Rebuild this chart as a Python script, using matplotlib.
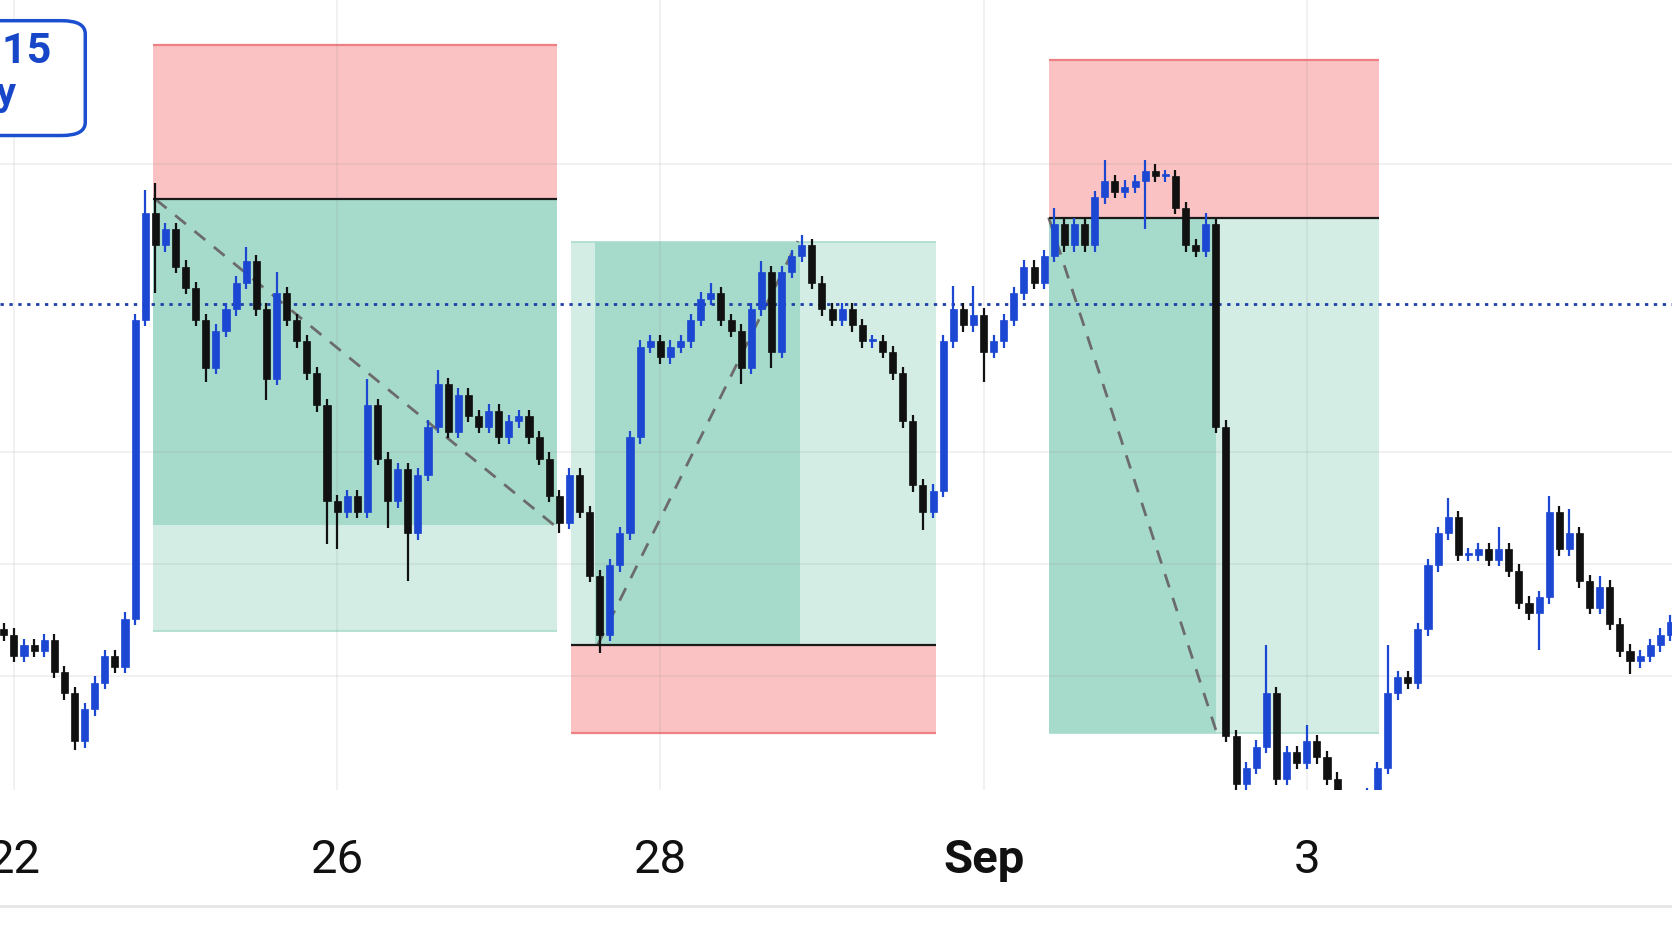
import numpy as np
import matplotlib.pyplot as plt
from matplotlib.patches import Rectangle, FancyBboxPatch

# 90-minute bars, weekends skipped; x axis counts trading days from Aug 22
bars_per_day = 16
first_bar_day = -1 / 16
first_open = 410

close = [
    405, 385, 395, 390, 400, 370, 350, 305, 335, 360,
    385, 375, 420, 700, 800, 770, 785, 750, 730, 700,
    655, 690, 710, 735, 755, 710, 645, 725, 700, 680,
    650, 620, 530, 520, 535, 520, 620, 570, 530, 560,
    500, 555, 600, 640, 595, 630, 610, 600, 615, 590,
    605, 610, 590, 570, 535, 510, 555, 520, 460, 405,
    470, 500, 590, 675, 680, 665, 675, 680, 700, 720,
    725, 700, 690, 655, 710, 745, 670, 745, 760, 770,
    735, 710, 700, 710, 695, 680, 680, 670, 650, 605,
    545, 520, 540, 680, 710, 695, 705, 670, 680, 700,
    725, 750, 735, 760, 790, 770, 790, 770, 815, 830,
    820, 825, 830, 840, 835, 835, 805, 770, 765, 790,
    600, 310, 265, 280, 300, 350, 270, 295, 285, 305,
    290, 270, 245, 230, 240, 255, 280, 350, 365, 360,
    410, 470, 500, 515, 480, 480, 485, 475, 485, 465,
    435, 425, 440, 520, 485, 500, 455, 430, 450, 415,
    390, 380, 385, 395, 405, 417,
]
upper_wick = [
    6, 6, 6, 6, 6, 6, 6, 6, 6, 6,
    6, 6, 6, 6, 22, 28, 6, 6, 6, 6,
    6, 6, 6, 6, 13, 6, 6, 20, 6, 6,
    6, 6, 6, 6, 6, 6, 25, 6, 6, 6,
    6, 6, 6, 13, 6, 6, 6, 6, 6, 6,
    6, 6, 6, 6, 6, 6, 6, 6, 6, 6,
    6, 6, 6, 6, 6, 6, 6, 6, 6, 6,
    10, 6, 6, 6, 6, 10, 6, 6, 6, 10,
    6, 6, 6, 6, 6, 6, 6, 6, 6, 6,
    6, 6, 6, 6, 22, 6, 27, 6, 6, 6,
    6, 6, 6, 6, 15, 6, 6, 6, 6, 20,
    6, 6, 6, 10, 6, 6, 6, 6, 6, 10,
    5, 6, 6, 6, 6, 45, 6, 6, 6, 15,
    6, 6, 6, 6, 6, 6, 6, 45, 6, 6,
    6, 6, 6, 18, 6, 6, 6, 6, 21, 6,
    6, 6, 6, 15, 6, 23, 6, 6, 10, 6,
    6, 6, 6, 6, 6, 6,
]
lower_wick = [
    6, 6, 6, 6, 6, 6, 6, 8, 6, 6,
    6, 6, 6, 6, 6, 45, 6, 6, 6, 6,
    13, 6, 6, 6, 6, 6, 20, 6, 6, 6,
    6, 6, 40, 35, 6, 6, 6, 6, 25, 6,
    45, 6, 6, 6, 6, 6, 6, 6, 6, 6,
    6, 6, 6, 6, 6, 10, 6, 6, 6, 17,
    6, 6, 6, 6, 6, 6, 6, 6, 6, 6,
    6, 6, 6, 15, 6, 6, 15, 6, 6, 6,
    6, 6, 6, 6, 6, 6, 6, 6, 6, 6,
    6, 17, 6, 6, 6, 6, 6, 28, 6, 6,
    6, 6, 6, 6, 6, 6, 6, 6, 6, 6,
    6, 6, 6, 45, 6, 6, 6, 6, 6, 6,
    6, 6, 6, 6, 6, 6, 6, 6, 6, 6,
    6, 6, 6, 6, 6, 6, 6, 6, 6, 6,
    6, 6, 6, 6, 6, 6, 6, 6, 6, 6,
    6, 6, 34, 6, 6, 6, 6, 6, 6, 6,
    6, 12, 6, 6, 6, 6,
]

tick_days = [0, 2, 4, 6, 8]
tick_labels = ["22", "26", "28", "Sep", "3"]
grid_prices = [846, 576, 471, 366]
last_price = 715

# position tools: short, long, short
pos_start = [0.858, 3.446, 6.403]
pos_end = [3.360, 5.703, 8.449]
pos_entry = [813, 395, 796]
pos_stop = [958, 313, 944]
pos_target = [408, 773, 313]
# part of the profit zone already covered
hit_x0 = [0.858, 3.597, 6.403]
hit_x1 = [3.360, 4.865, 7.439]
hit_y0 = [813, 395, 796]
hit_y1 = [508, 773, 313]
# dashed trade path
path_x0 = [0.878, 3.611, 6.403]
path_y0 = [813, 395, 796]
path_x1 = [3.340, 4.851, 7.439]
path_y1 = [508, 774, 315]

BLUE = "#1b47d3"
PINK = "#fbc2c3"
GREEN_DARK = "#a6dbcb"
GREEN_LIGHT = "#d3ede5"

close = np.array(close, dtype=float)
opens = np.concatenate([[first_open], close[:-1]])
highs = np.maximum(opens, close) + np.array(upper_wick)
lows = np.minimum(opens, close) - np.array(lower_wick)
x = first_bar_day + np.arange(len(close)) / bars_per_day

fig = plt.figure(figsize=(16.72, 9.41), dpi=100)
ax = fig.add_axes([0, 0.16, 1, 0.84])
ax.set_xlim(-0.086, 10.26)
ax.set_ylim(259, 1000)

# position boxes
for i in range(3):
    w = pos_end[i] - pos_start[i]
    ax.add_patch(Rectangle((pos_start[i], min(pos_entry[i], pos_stop[i])), w,
                           abs(pos_stop[i] - pos_entry[i]), facecolor=PINK,
                           edgecolor="none", zorder=1))
    ax.add_patch(Rectangle((pos_start[i], min(pos_entry[i], pos_target[i])), w,
                           abs(pos_target[i] - pos_entry[i]), facecolor=GREEN_LIGHT,
                           edgecolor="none", zorder=1))
    ax.add_patch(Rectangle((hit_x0[i], min(hit_y0[i], hit_y1[i])), hit_x1[i] - hit_x0[i],
                           abs(hit_y1[i] - hit_y0[i]), facecolor=GREEN_DARK,
                           edgecolor="none", zorder=1.1))
    ax.hlines(pos_stop[i], pos_start[i], pos_end[i], color="#ee7f82", lw=1.6, zorder=1.2)
    ax.hlines(pos_entry[i], pos_start[i], pos_end[i], color="#1a1a1a", lw=1.6, zorder=2.6)
    ax.hlines(pos_target[i], pos_start[i], pos_end[i], color="#a9dccd", lw=1.2, zorder=1.2)
    ax.plot([path_x0[i], path_x1[i]], [path_y0[i], path_y1[i]], color="#6b6b6b",
            lw=2, dashes=(5, 4), zorder=2.4)

# grid
for d in tick_days:
    ax.axvline(d, color="#888888", alpha=0.13, lw=1.2, zorder=1.5)
for p in grid_prices:
    ax.axhline(p, color="#888888", alpha=0.13, lw=1.2, zorder=1.5)

ax.axhline(last_price, color="#1f3fa8", lw=2.0, linestyle=(0, (1.2, 2.0)), zorder=2.5)

# candles
colors = np.where(close >= opens, BLUE, "#111111")
ax.vlines(x, lows, highs, colors=colors, lw=1.6, zorder=3)
body = np.maximum(np.abs(close - opens), 2)
ax.bar(x, body, bottom=np.minimum(opens, close), width=0.7 / bars_per_day,
       color=colors, edgecolor=colors, lw=0.5, zorder=3.1)

for s in ax.spines.values():
    s.set_visible(False)
ax.set_yticks([])
ax.set_xticks(tick_days)
ax.set_xticklabels(tick_labels)
ax.tick_params(axis="x", length=0, pad=34)
for lab in ax.get_xticklabels():
    lab.set_family(["Roboto", "DejaVu Sans"])
    lab.set_fontsize(34)
    lab.set_color("#111111")
    if lab.get_text() == "Sep":
        lab.set_fontweight("bold")

# bottom separator
fig.add_artist(plt.Line2D([0, 1], [0.037, 0.037], color="#e6e6e6", lw=2))

# symbol badge, cut off at the left edge
fig.add_artist(FancyBboxPatch((-0.06, 0.856), 0.111, 0.122,
                              boxstyle="round,pad=0,rounding_size=0.014",
                              transform=fig.transFigure, facecolor="white",
                              edgecolor="#1b4fd0", lw=2.5, zorder=5))
fig.text(0.031, 0.946, "EURUSD, 15", ha="right", va="center", fontsize=31,
         fontweight="bold", color="#1846c8", family="Roboto", zorder=6)
fig.text(0.010, 0.900, "Daily", ha="right", va="center", fontsize=28,
         fontweight="bold", color="#1846c8", family="Roboto", zorder=6)

fig.savefig("out.png", dpi=100, facecolor="white")
